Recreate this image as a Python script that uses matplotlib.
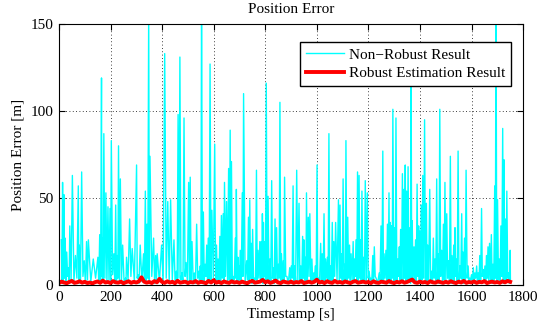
import numpy as np
import matplotlib
matplotlib.use("Agg")
import matplotlib.pyplot as plt

plt.rcParams['font.family'] = ['Liberation Serif', 'DejaVu Serif']
plt.rcParams['mathtext.fontset'] = 'stix'

# Non-robust result: spike times [s], spike values [m] and the low value after each spike
spike_t = [9, 14, 19, 24, 30, 37, 42, 52, 64, 75,
           79, 88, 98, 107, 114, 133, 151, 158, 165, 168,
           174, 182, 190, 198, 203, 213, 220, 226, 231, 238,
           247, 258, 262, 274, 284, 301, 306, 315, 328, 335,
           341, 348, 353, 367, 375, 381, 398, 410, 422, 433,
           446, 455, 462, 469, 477, 485, 493, 503, 509, 516,
           525, 534, 542, 548, 553, 560, 567, 573, 579, 586,
           593, 604, 611, 617, 624, 630, 637, 642, 650, 658,
           664, 669, 676, 684, 688, 694, 698, 703, 711, 716,
           728, 735, 740, 746, 751, 759, 766, 772, 779, 785,
           789, 793, 798, 804, 811, 818, 825, 832, 838, 844,
           851, 857, 863, 870, 875, 884, 895, 901, 908, 914,
           922, 931, 938, 945, 950, 956, 960, 967, 973, 981,
           988, 994, 1001, 1006, 1015, 1021, 1028, 1034, 1041, 1047,
           1053, 1060, 1066, 1073, 1084, 1090, 1096, 1102, 1109, 1113,
           1120, 1127, 1133, 1141, 1146, 1152, 1158, 1164, 1170, 1175,
           1182, 1188, 1196, 1203, 1209, 1217, 1223, 1230, 1242, 1249,
           1256, 1261, 1268, 1274, 1280, 1285, 1290, 1295, 1302, 1307,
           1314, 1320, 1325, 1332, 1338, 1343, 1348, 1354, 1361, 1366,
           1370, 1377, 1383, 1389, 1395, 1400, 1405, 1411, 1418, 1425,
           1430, 1438, 1445, 1452, 1458, 1465, 1471, 1477, 1484, 1491,
           1497, 1504, 1511, 1518, 1524, 1531, 1536, 1541, 1548, 1555,
           1562, 1567, 1573, 1579, 1587, 1593, 1600, 1607, 1613, 1620,
           1626, 1632, 1639, 1645, 1652, 1658, 1664, 1670, 1677, 1683,
           1690, 1695, 1701, 1708, 1714, 1721, 1726, 1731, 1737, 1744,
           1750]
spike_v = [26, 59, 52, 27, 19, 10, 34, 63, 17, 57,
           23, 65, 14, 25, 26, 15, 16, 29, 119, 27,
           87, 53, 45, 44, 83, 18, 46, 17, 80, 61,
           23, 4, 16, 38, 21, 69, 6, 23, 18, 54,
           35, 158, 74, 27, 17, 18, 23, 133, 48, 49,
           26, 8, 98, 131, 7, 96, 13, 59, 62, 25,
           7, 35, 8, 11, 165, 42, 12, 23, 27, 127,
           43, 81, 23, 15, 28, 40, 41, 59, 48, 67,
           89, 71, 5, 27, 55, 16, 11, 20, 53, 110,
           14, 39, 49, 24, 32, 4, 66, 20, 25, 25,
           41, 36, 25, 116, 51, 15, 60, 10, 38, 33,
           12, 105, 18, 14, 62, 5, 10, 11, 57, 11,
           66, 47, 11, 28, 26, 16, 53, 39, 41, 15,
           7, 11, 69, 4, 24, 18, 41, 15, 16, 87,
           11, 36, 25, 36, 49, 46, 18, 61, 12, 83,
           39, 23, 18, 25, 15, 26, 65, 63, 26, 54,
           16, 60, 53, 8, 4, 17, 22, 4, 7, 34,
           77, 18, 20, 35, 53, 36, 34, 101, 33, 96,
           15, 22, 32, 64, 55, 69, 54, 68, 33, 114,
           37, 22, 26, 58, 34, 31, 46, 63, 95, 47,
           23, 55, 8, 27, 15, 61, 18, 101, 20, 35,
           59, 41, 14, 74, 17, 23, 33, 15, 77, 11,
           41, 19, 27, 66, 11, 4, 6, 10, 7, 11,
           7, 17, 44, 9, 11, 17, 22, 24, 29, 12,
           57, 172, 49, 15, 34, 90, 72, 38, 54, 7,
           20]
dip_v = [3, 1, 4, 2, 5, 1, 3, 2, 4, 1,
         2, 5, 1, 3, 2, 4, 1, 3, 5, 2,
         4, 1, 3, 2, 6, 1, 2, 4, 1, 3,
         2, 1, 3, 5, 2, 4, 1, 2, 3, 1,
         4, 2, 5, 1, 3, 2, 1, 4, 2, 3,
         1, 2, 4, 3, 1, 5, 2, 1, 3, 2,
         1, 4, 2, 3, 1, 2, 5, 1, 3, 2,
         4, 1, 2, 3, 1, 4, 2, 5, 1, 3,
         2, 1, 3, 4, 2, 1, 3, 2, 5, 1,
         3, 2, 4, 1, 2, 3, 1, 4, 2, 3,
         1, 5, 2, 3, 1, 2, 4, 1, 3, 2,
         4, 1, 2, 3, 5, 1, 2, 4, 1, 3,
         2, 3, 1, 4, 2, 1, 3, 5, 2, 1,
         3, 2, 4, 1, 3, 2, 1, 4, 2, 3,
         1, 2, 5, 3, 1, 4, 2, 1, 3, 2,
         4, 1, 3, 2, 5, 1, 2, 4, 1, 3,
         2, 1, 4, 3, 1, 2, 5, 1, 3, 2,
         1, 4, 2, 3, 1, 2, 4, 1, 3, 2,
         5, 1, 3, 2, 4, 1, 2, 3, 1, 4,
         2, 3, 1, 5, 2, 1, 3, 4, 2, 1,
         3, 2, 1, 4, 2, 3, 1, 5, 2, 3,
         1, 4, 2, 1, 3, 2, 5, 1, 2, 4,
         3, 1, 2, 4, 1, 3, 2, 1, 4, 2,
         1, 3, 5, 2, 1, 4, 2, 3, 1, 2,
         4, 1, 3, 2, 5, 1, 3, 2, 4, 1,
         2]

# Robust estimation result, sampled every 10 s from 0 to 1750 s
robust_t = np.arange(0, 1751, 10)
robust_v = [1.2, 2.0, 1.5, 1.1, 1.8, 2.4, 1.3, 1.6, 2.2, 1.4,
            1.9, 1.2, 1.5, 1.0, 1.7, 2.1, 1.3, 2.6, 1.5, 1.8,
            1.2, 2.3, 1.6, 1.4, 2.0, 1.1, 1.7, 2.2, 1.3, 1.9,
            1.5, 2.1, 4.5, 2.0, 1.4, 1.8, 1.2, 2.3, 1.6, 3.6,
            1.8, 1.3, 2.2, 1.5, 1.9, 1.1, 2.5, 1.4, 1.7, 2.0,
            1.2, 1.8, 1.5, 2.3, 1.3, 1.9, 1.6, 1.1, 2.4, 1.5,
            2.8, 1.4, 1.9, 1.2, 2.1, 1.6, 1.3, 2.2, 1.5, 1.8,
            1.3, 2.0, 1.5, 1.1, 1.9, 2.4, 1.4, 1.7, 2.0, 3.0,
            1.6, 2.2, 1.3, 1.8, 2.6, 1.5, 1.2, 2.1, 1.7, 1.4,
            2.0, 1.3, 1.8, 1.5, 2.3, 1.2, 1.6, 2.0, 1.4, 1.9,
            3.1, 1.5, 1.9, 1.2, 2.2, 1.6, 1.3, 2.4, 1.5, 1.8,
            1.3, 2.1, 1.6, 1.2, 1.9, 2.3, 1.4, 1.7, 2.0, 1.5,
            1.8, 1.2, 2.2, 1.5, 1.3, 2.0, 1.7, 1.4, 2.3, 1.6,
            1.2, 1.9, 1.5, 2.2, 1.4, 1.8, 2.5, 3.2, 1.6, 1.3,
            2.0, 1.5, 1.8, 1.2, 2.2, 1.6, 1.4, 2.1, 1.7, 1.3,
            1.9, 1.4, 2.2, 1.6, 1.2, 2.0, 1.5, 2.4, 1.3, 1.8,
            1.5, 2.1, 1.3, 1.9, 1.6, 2.3, 1.2, 1.7, 2.0, 1.5,
            1.8, 1.3, 2.2, 1.6, 2.4, 1.9]

# build the non-robust line: each spike followed by its low point halfway to the next spike
st = np.array(spike_t, dtype=float)
dip_t = np.append((st[:-1] + st[1:]) / 2, st[-1] + 1)
nr_t = np.empty(2 * len(st))
nr_v = np.empty(2 * len(st))
nr_t[0::2], nr_t[1::2] = st, dip_t
nr_v[0::2], nr_v[1::2] = spike_v, dip_v

fig = plt.figure(figsize=(5.46, 3.24), dpi=100)
ax = fig.add_axes([0.108, 0.120, 0.850, 0.806])

ax.plot(nr_t, nr_v, color='#00ffff', lw=1.0, label='Non\u2212Robust Result')
ax.plot(robust_t, robust_v, color='#ff0000', lw=2.8, label='Robust Estimation Result')

ax.set_xlim(0, 1800)
ax.set_ylim(0, 150)
ax.set_xticks(np.arange(0, 1801, 200))
ax.set_yticks([0, 50, 100, 150])
ax.grid(True, color='black', linestyle=(0, (1, 3)), linewidth=0.6)
ax.tick_params(direction='in', top=True, right=True, length=4, labelsize=11, pad=4)
for s in ax.spines.values():
    s.set_linewidth(0.8)

ax.set_title('Position Error', fontsize=11, pad=8)
ax.set_xlabel('Timestamp [s]', fontsize=11, labelpad=3)
ax.set_ylabel('Position Error [m]', fontsize=11, labelpad=4)

leg = ax.legend(loc='upper right', bbox_to_anchor=(0.974, 0.931), borderaxespad=0,
                fancybox=False, framealpha=1, edgecolor='black', fontsize=11,
                handlelength=2.5, handletextpad=0.3, borderpad=0.4, labelspacing=0.3)
leg.get_frame().set_linewidth(1.0)

fig.savefig('out.png', dpi=100)
